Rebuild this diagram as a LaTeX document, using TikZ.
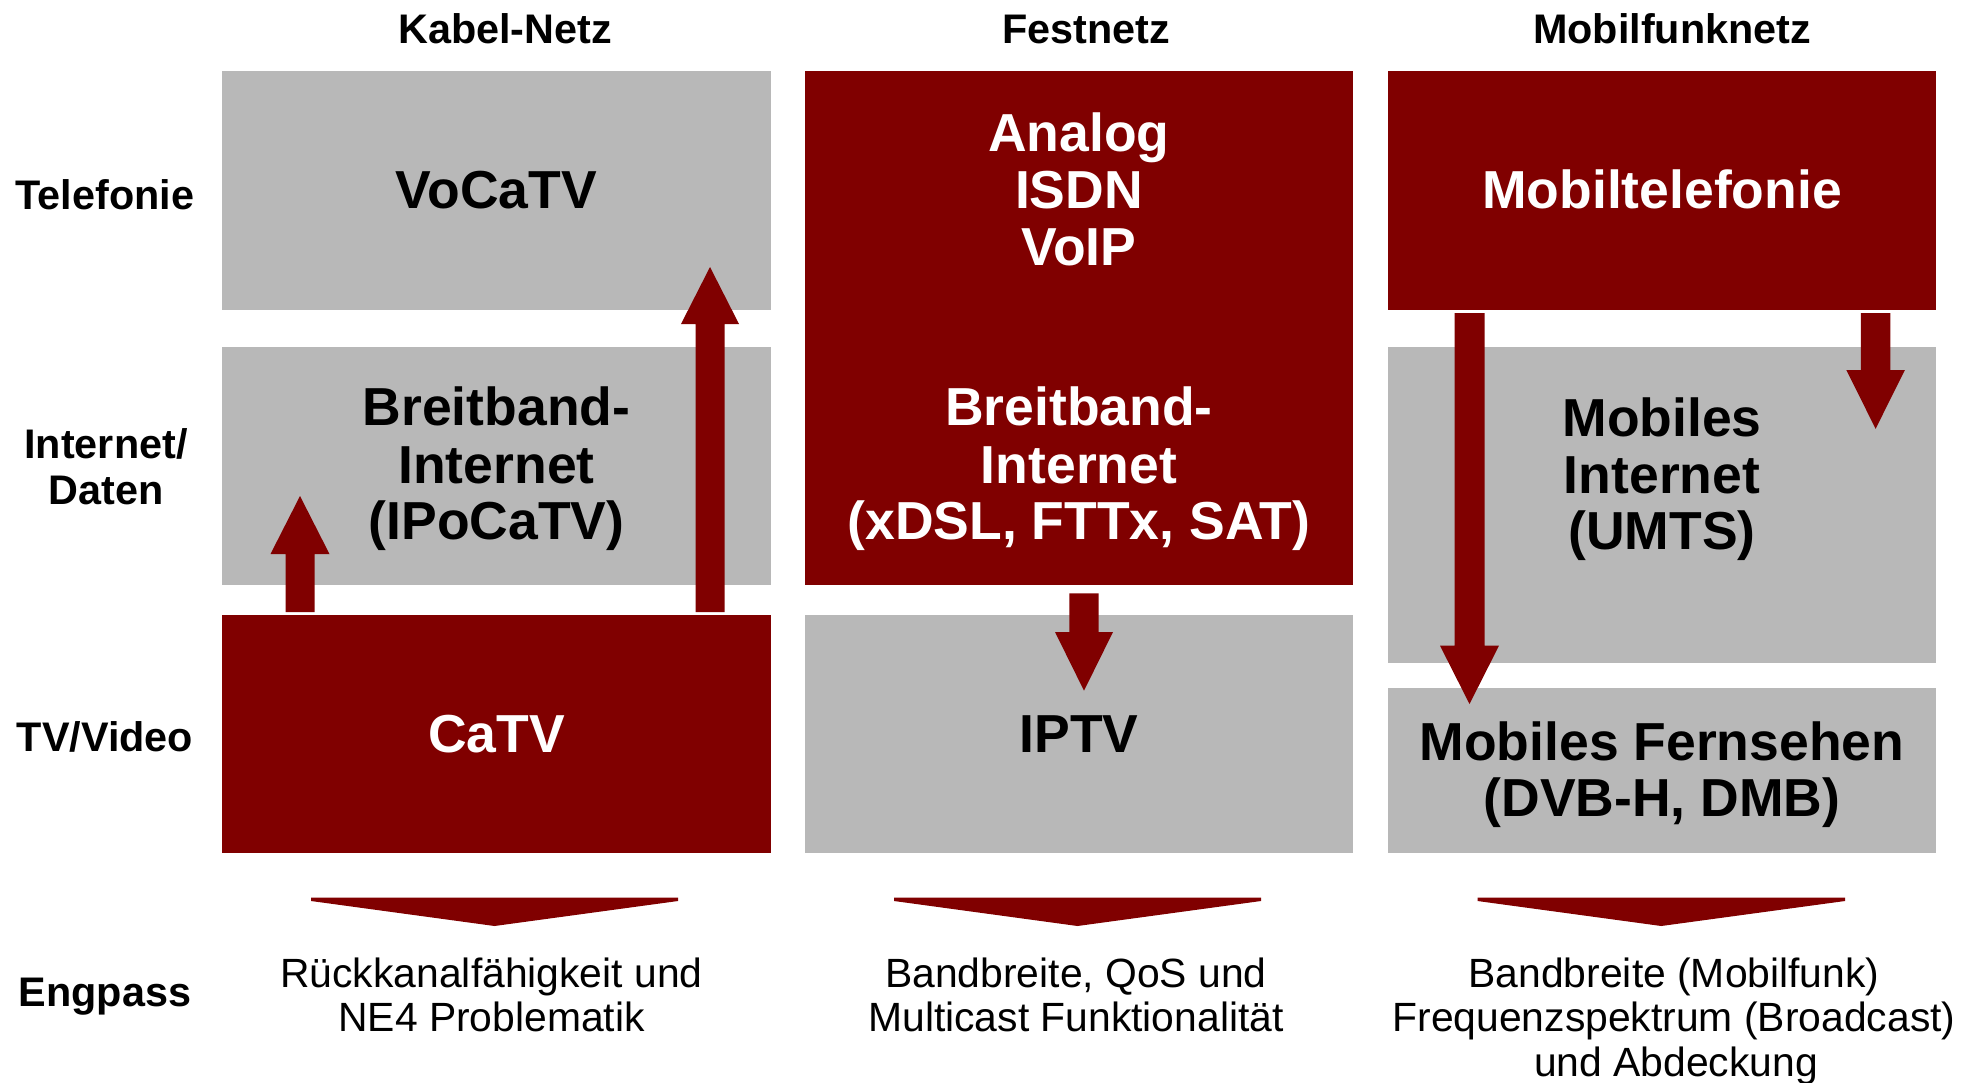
\documentclass[tikz,border=0pt]{standalone}
\usepackage{fontspec}
\setmainfont{Liberation Sans}
\definecolor{dred}{RGB}{128,0,0}
\definecolor{lgray}{RGB}{184,184,184}
\newcommand{\blockarr}[6]{\fill[dred] (#1-#2,#6) -- (#1-#2,#5) -- (#1-#3,#5) -- (#1,#4) -- (#1+#3,#5) -- (#1+#2,#5) -- (#1+#2,#6) -- cycle;}
\newcommand{\chevron}[2]{\fill[dred] (#1,897.5) -- (#2,897.5) -- (#2,901) -- ({(#1+#2)/2},926) -- (#1,901) -- cycle;}
\begin{document}
\begin{tikzpicture}[x=1bp,y=-1bp,
  box/.style={inner sep=0pt, outer sep=0pt, anchor=north west, draw=none},
  redbox/.style={box, fill=dred},
  graybox/.style={box, fill=lgray},
  wtxt/.style={anchor=base, inner sep=0pt, text=white, font=\fontsize{53.7}{58}\selectfont\bfseries},
  btxt/.style={anchor=base, inner sep=0pt, text=black, font=\fontsize{53.7}{58}\selectfont\bfseries},
  hdr/.style={anchor=base, inner sep=0pt, font=\fontsize{41.5}{45}\selectfont\bfseries},
  reg/.style={anchor=base, inner sep=0pt, font=\fontsize{41}{45}\selectfont}]
\useasboundingbox (0,0) rectangle (1975,1082);
\fill[white] (0,0) rectangle (1975,1082);

% boxes
\node[graybox, minimum width=549bp, minimum height=239.5bp] (vocatv) at (222,70.5) {};
\node[graybox, minimum width=549bp, minimum height=238bp] (ipocatv) at (222,346.5) {};
\node[redbox, minimum width=549bp, minimum height=238bp] (catv) at (222,614.7) {};
\node[redbox, minimum width=548bp, minimum height=514bp] (fest) at (805,70.5) {};
\node[graybox, minimum width=548bp, minimum height=238bp] (iptv) at (805,614.7) {};
\node[redbox, minimum width=548bp, minimum height=239.5bp] (mtel) at (1388,70.5) {};
\node[graybox, minimum width=548bp, minimum height=316bp] (mint) at (1388,346.5) {};
\node[graybox, minimum width=548bp, minimum height=165bp] (mtv) at (1388,687.7) {};

% block arrows
\blockarr{300}{14.5}{29.5}{496}{554}{612}
\blockarr{710}{14.5}{29}{267}{324}{612}
\blockarr{1084}{14.7}{29}{690.7}{632}{593.3}
\blockarr{1469.5}{15}{29.5}{704}{645.7}{313}
\blockarr{1875.6}{14.7}{29.3}{428.8}{370}{313}

% chevrons
\chevron{311}{678}
\chevron{894}{1261}
\chevron{1477.5}{1845}

% column headers
\node[hdr] (h1) at (505,43.5) {Kabel-Netz};
\node[hdr] (h2) at (1086,43.5) {Festnetz};
\node[hdr] (h3) at (1672,43) {Mobilfunknetz};

% row labels
\node[hdr] (r1) at (105,209.5) {Telefonie};
\node[hdr] (r2a) at (106,458.5) {Internet/};
\node[hdr] (r2b) at (106,504) {Daten};
\node[hdr] (r3) at (105,751.7) {TV/Video};
\node[hdr] (r4) at (105,1006.7) {Engpass};

% box texts
\node[btxt] (t1) at (496.5,208.6) {VoCaTV};
\node[btxt] (t2a) at (496.5,425.5) {Breitband-};
\node[btxt] (t2b) at (496.5,483) {Internet};
\node[btxt] (t2c) at (496.5,539.5) {(IPoCaTV)};
\node[wtxt] (t3) at (496.5,752.7) {CaTV};

\node[wtxt] (f1a) at (1079,151.4) {Analog};
\node[wtxt] (f1b) at (1079,208.7) {ISDN};
\node[wtxt] (f1c) at (1079,265.6) {VoIP};
\node[wtxt] (f2a) at (1079,425.5) {Breitband-};
\node[wtxt] (f2b) at (1079,483) {Internet};
\node[wtxt] (f2c) at (1079,539.5) {(xDSL, FTTx, SAT)};
\node[btxt] (f3) at (1079,752.7) {IPTV};

\node[wtxt] (m1) at (1662,208.3) {Mobiltelefonie};
\node[btxt] (m2a) at (1662,436) {Mobiles};
\node[btxt] (m2b) at (1662,493) {Internet};
\node[btxt] (m2c) at (1662,549.4) {(UMTS)};
\node[btxt] (m3a) at (1662,760) {Mobiles Fernsehen};
\node[btxt] (m3b) at (1662,816) {(DVB-H, DMB)};

% bottleneck texts
\node[reg] (e1a) at (491.5,987.3) {Rückkanalfähigkeit und};
\node[reg] (e1b) at (491.5,1031.7) {NE4 Problematik};
\node[reg] (e2a) at (1076,987.3) {Bandbreite, QoS und};
\node[reg] (e2b) at (1076,1031.7) {Multicast Funktionalität};
\node[reg] (e3a) at (1674,987.3) {Bandbreite (Mobilfunk)};
\node[reg] (e3b) at (1674,1031.7) {Frequenzspektrum (Broadcast)};
\node[reg] (e3c) at (1676,1076.7) {und Abdeckung};
\end{tikzpicture}
\end{document}
